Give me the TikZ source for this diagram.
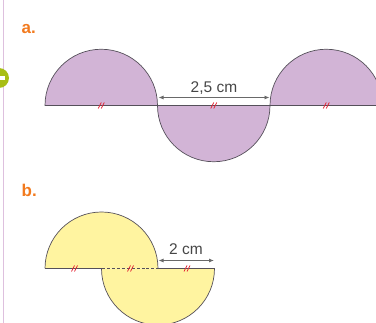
\documentclass[tikz,border=0pt]{standalone}
\usepackage{fontspec}
\setmainfont{Liberation Sans}
\usetikzlibrary{arrows.meta}
\definecolor{lilac}{RGB}{210,180,214}
\definecolor{lemon}{RGB}{255,244,160}
\definecolor{rim}{RGB}{85,80,90}
\definecolor{dimgrey}{RGB}{105,105,105}
\definecolor{inkgrey}{RGB}{70,70,70}
\definecolor{partlbl}{RGB}{242,122,30}
\definecolor{tickred}{RGB}{228,40,55}
\definecolor{marginpink}{RGB}{222,192,222}
\definecolor{lime}{RGB}{168,190,20}

\begin{document}
\begin{tikzpicture}[x=1pt,y=-1pt,
  rimline/.style={draw=rim,line width=0.7pt},
  dimline/.style={draw=dimgrey,line width=0.8pt,{Latex[length=5pt,width=4pt]}-{Latex[length=5pt,width=4pt]}},
  ticks/.style={draw=tickred,line width=0.7pt},
  partname/.style={anchor=base west,inner sep=0pt,text=partlbl,font=\fontsize{17}{20}\selectfont\bfseries},
  measure/.style={anchor=base,inner sep=0pt,text=inkgrey,font=\fontsize{15.5}{18}\selectfont}]
\useasboundingbox (0,0) rectangle (376,323);
\clip (0,0) rectangle (376,323);
% margin
\draw[marginpink,line width=1.3pt] (3.5,0) -- (3.5,323);
\fill[lime] (-1,78) circle (10);
\fill[white] (-6,76) rectangle (5,80.5);
% a.
\node[partname] (lblA) at (21.5,34) {a.};
\filldraw[fill=lilac,rimline] (45,105.5) arc[start angle=180,end angle=360,radius=56.25]
  arc[start angle=180,end angle=0,radius=56.25]
  arc[start angle=180,end angle=360,radius=56.25] -- cycle;
\foreach \t in {101.25,213.75,326.25}
  \draw[ticks] (\t-3,108.5) -- (\t,102.5) (\t,108.5) -- (\t+3,102.5);
\coordinate (a1) at (158.5,97.5); \coordinate (a2) at (269.5,97.5);
\draw[dimline] (a1) -- (a2);
\node[measure] (dimA) at (214,92.3) {2,5 cm};
% b.
\node[partname] (lblB) at (21.5,196.5) {b.};
\fill[lemon] (45,268.5) arc[start angle=180,end angle=360,radius=56.5] -- cycle;
\fill[lemon] (101.5,268.5) arc[start angle=180,end angle=0,radius=56.5] -- cycle;
\draw[rimline] (45,268.5) arc[start angle=180,end angle=360,radius=56.5];
\draw[rimline] (101.5,268.5) arc[start angle=180,end angle=0,radius=56.5];
\draw[rimline] (45,268.5) -- (101.5,268.5) (158,268.5) -- (214.5,268.5);
\draw[rimline,dash pattern=on 3pt off 2pt] (101.5,268.5) -- (158,268.5);
\foreach \t in {74.5,130.5,187}
  \draw[ticks] (\t-3,271.5) -- (\t,265.5) (\t,271.5) -- (\t+3,265.5);
\coordinate (b1) at (158.5,260.5); \coordinate (b2) at (214,260.5);
\draw[dimline] (b1) -- (b2);
\node[measure] (dimB) at (186,255) {2 cm};
\end{tikzpicture}
\end{document}
